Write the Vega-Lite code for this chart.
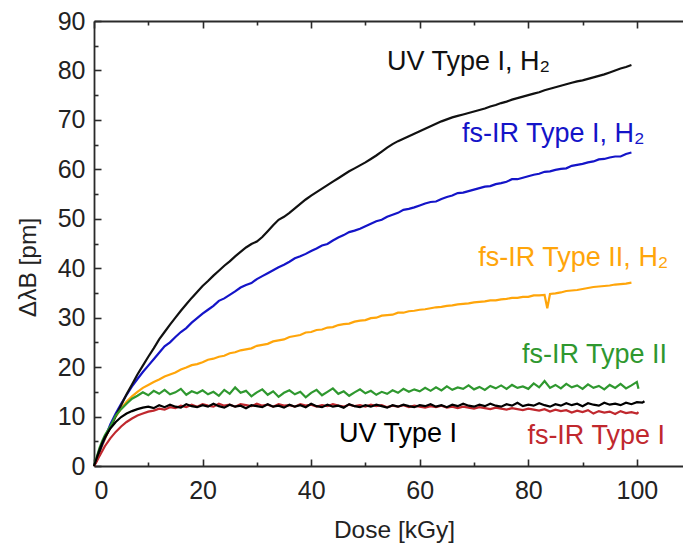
{
  "$schema": "https://vega.github.io/schema/vega-lite/v6.json",
  "width": 589,
  "height": 445,
  "autosize": {"type": "none"},
  "padding": {"left": 94, "top": 21, "right": 0, "bottom": 83},
  "background": "white",
  "config": {
    "view": {"stroke": null},
    "axis": {
      "grid": false,
      "domainColor": "#2a2a2a",
      "tickColor": "#2a2a2a",
      "domainWidth": 1.8,
      "tickWidth": 1.6,
      "labelFont": "Liberation Sans",
      "titleFont": "Liberation Sans",
      "labelColor": "#222222",
      "titleColor": "#222222",
      "labelFontSize": 25,
      "titleFontSize": 24.5,
      "titleFontWeight": "normal"
    }
  },
  "datasets": {
    "curves": [
      {"d": 0, "uvh": 0, "irh": 0, "ir2h": 0, "ir2": 0, "uv": 0, "ir": 0},
      {"d": 0.5, "uvh": 1.1, "irh": 1.4, "ir2h": 1.3, "ir2": 1.8, "uv": 1.6, "ir": 0.9},
      {"d": 1, "uvh": 2.8, "irh": 2.9, "ir2h": 2.8, "ir2": 3.6, "uv": 3.2, "ir": 2.0},
      {"d": 1.5, "uvh": 4.6, "irh": 4.3, "ir2h": 4.1, "ir2": 5.0, "uv": 4.6, "ir": 3.0},
      {"d": 2, "uvh": 5.7, "irh": 5.6, "ir2h": 5.4, "ir2": 6.2, "uv": 5.8, "ir": 4.0},
      {"d": 3, "uvh": 7.8, "irh": 8.4, "ir2h": 7.9, "ir2": 8.0, "uv": 7.6, "ir": 5.6},
      {"d": 4, "uvh": 10.1, "irh": 10.6, "ir2h": 10.0, "ir2": 10.2, "uv": 8.9, "ir": 6.9},
      {"d": 5, "uvh": 12.3, "irh": 12.6, "ir2h": 11.6, "ir2": 11.5, "uv": 9.9, "ir": 8.0},
      {"d": 6, "uvh": 14.5, "irh": 14.4, "ir2h": 13.0, "ir2": 12.6, "uv": 10.6, "ir": 8.9},
      {"d": 7, "uvh": 16.5, "irh": 16.1, "ir2h": 14.1, "ir2": 13.6, "uv": 11.1, "ir": 9.6},
      {"d": 8, "uvh": 18.5, "irh": 17.6, "ir2h": 15.0, "ir2": 14.2, "uv": 11.5, "ir": 10.2},
      {"d": 9, "uvh": 20.3, "irh": 19.0, "ir2h": 15.8, "ir2": 14.9, "uv": 11.8, "ir": 10.6},
      {"d": 10, "uvh": 22.1, "irh": 20.3, "ir2h": 16.4, "ir2": 14.3, "uv": 12.0, "ir": 11.0},
      {"d": 11, "uvh": 23.8, "irh": 21.6, "ir2h": 17.0, "ir2": 15.2, "uv": 11.7, "ir": 11.2},
      {"d": 12, "uvh": 25.6, "irh": 22.9, "ir2h": 17.5, "ir2": 14.6, "uv": 12.3, "ir": 11.6},
      {"d": 13, "uvh": 27.1, "irh": 24.2, "ir2h": 18.1, "ir2": 15.4, "uv": 11.9, "ir": 11.4},
      {"d": 14, "uvh": 28.6, "irh": 25.0, "ir2h": 18.5, "ir2": 14.5, "uv": 12.4, "ir": 11.9},
      {"d": 15, "uvh": 30.0, "irh": 26.1, "ir2h": 18.9, "ir2": 14.9, "uv": 12.0, "ir": 11.7},
      {"d": 16, "uvh": 31.4, "irh": 27.1, "ir2h": 19.5, "ir2": 15.6, "uv": 11.8, "ir": 12.2},
      {"d": 17, "uvh": 32.7, "irh": 27.9, "ir2h": 19.9, "ir2": 14.4, "uv": 12.5, "ir": 11.9},
      {"d": 18, "uvh": 34.0, "irh": 29.0, "ir2h": 20.4, "ir2": 15.1, "uv": 12.1, "ir": 12.4},
      {"d": 19, "uvh": 35.2, "irh": 29.9, "ir2h": 20.6, "ir2": 14.7, "uv": 11.9, "ir": 12.0},
      {"d": 20, "uvh": 36.4, "irh": 30.8, "ir2h": 21.0, "ir2": 15.3, "uv": 12.3, "ir": 12.5},
      {"d": 21, "uvh": 37.4, "irh": 31.6, "ir2h": 21.5, "ir2": 14.5, "uv": 12.0, "ir": 12.2},
      {"d": 22, "uvh": 38.5, "irh": 32.4, "ir2h": 21.7, "ir2": 15.0, "uv": 12.6, "ir": 12.0},
      {"d": 23, "uvh": 39.5, "irh": 33.4, "ir2h": 22.1, "ir2": 14.2, "uv": 12.1, "ir": 12.6},
      {"d": 24, "uvh": 40.5, "irh": 33.9, "ir2h": 22.3, "ir2": 15.4, "uv": 11.8, "ir": 12.2},
      {"d": 25, "uvh": 41.4, "irh": 34.6, "ir2h": 22.8, "ir2": 14.6, "uv": 12.4, "ir": 12.4},
      {"d": 26, "uvh": 42.4, "irh": 35.3, "ir2h": 23.0, "ir2": 15.9, "uv": 12.0, "ir": 12.0},
      {"d": 27, "uvh": 43.3, "irh": 36.1, "ir2h": 23.4, "ir2": 14.8, "uv": 12.2, "ir": 12.5},
      {"d": 28, "uvh": 44.2, "irh": 36.6, "ir2h": 23.6, "ir2": 15.2, "uv": 11.7, "ir": 12.3},
      {"d": 29, "uvh": 44.9, "irh": 37.0, "ir2h": 23.8, "ir2": 14.1, "uv": 12.3, "ir": 12.1},
      {"d": 30, "uvh": 45.4, "irh": 37.8, "ir2h": 24.3, "ir2": 14.9, "uv": 12.1, "ir": 12.6},
      {"d": 31, "uvh": 46.3, "irh": 38.4, "ir2h": 24.5, "ir2": 15.5, "uv": 11.9, "ir": 12.2},
      {"d": 32, "uvh": 47.5, "irh": 39.0, "ir2h": 24.7, "ir2": 14.4, "uv": 12.5, "ir": 12.4},
      {"d": 33, "uvh": 48.7, "irh": 39.6, "ir2h": 25.2, "ir2": 15.1, "uv": 12.0, "ir": 12.0},
      {"d": 34, "uvh": 49.8, "irh": 40.2, "ir2h": 25.4, "ir2": 14.0, "uv": 12.2, "ir": 12.5},
      {"d": 35, "uvh": 50.4, "irh": 40.7, "ir2h": 25.6, "ir2": 14.8, "uv": 11.8, "ir": 12.2},
      {"d": 36, "uvh": 51.2, "irh": 41.3, "ir2h": 26.1, "ir2": 15.3, "uv": 12.4, "ir": 12.3},
      {"d": 37, "uvh": 52.1, "irh": 42.0, "ir2h": 26.3, "ir2": 14.5, "uv": 12.0, "ir": 12.0},
      {"d": 38, "uvh": 53.0, "irh": 42.4, "ir2h": 26.5, "ir2": 15.0, "uv": 12.3, "ir": 12.5},
      {"d": 39, "uvh": 53.9, "irh": 42.9, "ir2h": 27.0, "ir2": 13.9, "uv": 11.9, "ir": 12.2},
      {"d": 40, "uvh": 54.7, "irh": 43.5, "ir2h": 27.1, "ir2": 14.8, "uv": 12.6, "ir": 12.4},
      {"d": 41, "uvh": 55.4, "irh": 44.0, "ir2h": 27.5, "ir2": 15.4, "uv": 12.1, "ir": 12.0},
      {"d": 42, "uvh": 56.1, "irh": 44.6, "ir2h": 27.6, "ir2": 14.3, "uv": 11.9, "ir": 12.3},
      {"d": 43, "uvh": 56.8, "irh": 44.9, "ir2h": 28.0, "ir2": 15.0, "uv": 12.4, "ir": 12.1},
      {"d": 44, "uvh": 57.5, "irh": 45.6, "ir2h": 28.1, "ir2": 15.7, "uv": 12.0, "ir": 12.5},
      {"d": 45, "uvh": 58.2, "irh": 46.2, "ir2h": 28.5, "ir2": 14.6, "uv": 12.2, "ir": 12.2},
      {"d": 46, "uvh": 58.9, "irh": 46.7, "ir2h": 28.7, "ir2": 15.1, "uv": 11.8, "ir": 12.0},
      {"d": 47, "uvh": 59.6, "irh": 47.3, "ir2h": 28.8, "ir2": 14.2, "uv": 12.5, "ir": 12.4},
      {"d": 48, "uvh": 60.2, "irh": 47.6, "ir2h": 29.2, "ir2": 14.9, "uv": 12.1, "ir": 12.1},
      {"d": 49, "uvh": 60.8, "irh": 48.0, "ir2h": 29.4, "ir2": 15.5, "uv": 11.9, "ir": 12.3},
      {"d": 50, "uvh": 61.4, "irh": 48.5, "ir2h": 29.5, "ir2": 14.7, "uv": 12.3, "ir": 12.0},
      {"d": 51, "uvh": 62.1, "irh": 49.0, "ir2h": 29.9, "ir2": 15.2, "uv": 12.0, "ir": 12.4},
      {"d": 52, "uvh": 62.8, "irh": 49.5, "ir2h": 30.0, "ir2": 14.4, "uv": 12.4, "ir": 12.1},
      {"d": 53, "uvh": 63.6, "irh": 49.8, "ir2h": 30.4, "ir2": 15.0, "uv": 12.1, "ir": 12.3},
      {"d": 54, "uvh": 64.4, "irh": 50.4, "ir2h": 30.5, "ir2": 14.6, "uv": 11.8, "ir": 11.9},
      {"d": 55, "uvh": 65.1, "irh": 50.8, "ir2h": 30.6, "ir2": 15.3, "uv": 12.3, "ir": 12.2},
      {"d": 56, "uvh": 65.7, "irh": 51.2, "ir2h": 31.0, "ir2": 14.8, "uv": 12.0, "ir": 12.0},
      {"d": 57, "uvh": 66.2, "irh": 51.8, "ir2h": 31.0, "ir2": 15.6, "uv": 12.4, "ir": 12.3},
      {"d": 58, "uvh": 66.7, "irh": 52.0, "ir2h": 31.3, "ir2": 15.0, "uv": 12.1, "ir": 11.9},
      {"d": 59, "uvh": 67.2, "irh": 52.3, "ir2h": 31.4, "ir2": 15.5, "uv": 11.9, "ir": 12.2},
      {"d": 60, "uvh": 67.7, "irh": 52.7, "ir2h": 31.6, "ir2": 15.1, "uv": 12.3, "ir": 12.0},
      {"d": 61, "uvh": 68.2, "irh": 53.1, "ir2h": 31.7, "ir2": 15.8, "uv": 12.1, "ir": 11.8},
      {"d": 62, "uvh": 68.7, "irh": 53.4, "ir2h": 31.9, "ir2": 15.2, "uv": 12.5, "ir": 12.1},
      {"d": 63, "uvh": 69.2, "irh": 53.5, "ir2h": 32.1, "ir2": 15.9, "uv": 12.0, "ir": 11.9},
      {"d": 64, "uvh": 69.7, "irh": 54.0, "ir2h": 32.2, "ir2": 15.3, "uv": 12.3, "ir": 12.2},
      {"d": 65, "uvh": 70.1, "irh": 54.4, "ir2h": 32.4, "ir2": 16.1, "uv": 11.9, "ir": 11.8},
      {"d": 66, "uvh": 70.5, "irh": 54.7, "ir2h": 32.5, "ir2": 15.4, "uv": 12.4, "ir": 12.0},
      {"d": 67, "uvh": 70.8, "irh": 55.2, "ir2h": 32.7, "ir2": 15.9, "uv": 12.1, "ir": 11.7},
      {"d": 68, "uvh": 71.1, "irh": 55.3, "ir2h": 32.8, "ir2": 15.6, "uv": 12.6, "ir": 12.0},
      {"d": 69, "uvh": 71.4, "irh": 55.6, "ir2h": 32.9, "ir2": 16.3, "uv": 12.2, "ir": 11.8},
      {"d": 70, "uvh": 71.7, "irh": 55.9, "ir2h": 33.1, "ir2": 15.5, "uv": 12.0, "ir": 11.6},
      {"d": 71, "uvh": 72.0, "irh": 56.2, "ir2h": 33.2, "ir2": 16.0, "uv": 12.4, "ir": 11.9},
      {"d": 72, "uvh": 72.3, "irh": 56.5, "ir2h": 33.3, "ir2": 15.4, "uv": 12.1, "ir": 11.7},
      {"d": 73, "uvh": 72.7, "irh": 56.6, "ir2h": 33.5, "ir2": 16.2, "uv": 12.6, "ir": 11.5},
      {"d": 74, "uvh": 73.0, "irh": 57.0, "ir2h": 33.5, "ir2": 15.7, "uv": 12.2, "ir": 11.8},
      {"d": 75, "uvh": 73.4, "irh": 57.2, "ir2h": 33.7, "ir2": 16.3, "uv": 12.0, "ir": 11.6},
      {"d": 76, "uvh": 73.7, "irh": 57.5, "ir2h": 33.8, "ir2": 15.6, "uv": 12.5, "ir": 11.4},
      {"d": 77, "uvh": 74.1, "irh": 58.0, "ir2h": 34.0, "ir2": 16.4, "uv": 12.2, "ir": 11.7},
      {"d": 78, "uvh": 74.4, "irh": 58.0, "ir2h": 34.0, "ir2": 15.8, "uv": 12.8, "ir": 11.5},
      {"d": 79, "uvh": 74.7, "irh": 58.3, "ir2h": 34.2, "ir2": 16.1, "uv": 12.1, "ir": 11.3},
      {"d": 80, "uvh": 75.0, "irh": 58.6, "ir2h": 34.2, "ir2": 15.6, "uv": 12.4, "ir": 11.6},
      {"d": 81, "uvh": 75.3, "irh": 58.9, "ir2h": 34.5, "ir2": 16.7, "uv": 12.2, "ir": 11.4},
      {"d": 82, "uvh": 75.6, "irh": 59.1, "ir2h": 34.5, "ir2": 15.9, "uv": 12.7, "ir": 11.2},
      {"d": 83, "uvh": 76.0, "irh": 59.5, "ir2h": 34.6, "ir2": 17.2, "uv": 12.3, "ir": 11.5},
      {"d": 83.5, "ir2h": 31.9},
      {"d": 84, "uvh": 76.3, "irh": 59.6, "ir2h": 34.8, "ir2": 15.8, "uv": 12.0, "ir": 11.0},
      {"d": 85, "uvh": 76.6, "irh": 59.9, "ir2h": 34.9, "ir2": 16.4, "uv": 12.5, "ir": 11.4},
      {"d": 86, "uvh": 76.9, "irh": 60.1, "ir2h": 35.1, "ir2": 15.7, "uv": 12.2, "ir": 11.1},
      {"d": 87, "uvh": 77.2, "irh": 60.2, "ir2h": 35.4, "ir2": 16.6, "uv": 12.7, "ir": 11.3},
      {"d": 88, "uvh": 77.5, "irh": 60.7, "ir2h": 35.5, "ir2": 15.9, "uv": 12.3, "ir": 10.8},
      {"d": 89, "uvh": 77.8, "irh": 60.9, "ir2h": 35.6, "ir2": 16.3, "uv": 12.6, "ir": 11.2},
      {"d": 90, "uvh": 78.0, "irh": 61.1, "ir2h": 35.8, "ir2": 15.6, "uv": 12.1, "ir": 10.9},
      {"d": 91, "uvh": 78.3, "irh": 61.4, "ir2h": 36.0, "ir2": 16.5, "uv": 12.7, "ir": 11.3},
      {"d": 92, "uvh": 78.6, "irh": 61.6, "ir2h": 36.2, "ir2": 15.8, "uv": 12.4, "ir": 10.6},
      {"d": 93, "uvh": 78.9, "irh": 62.0, "ir2h": 36.3, "ir2": 16.2, "uv": 12.2, "ir": 11.1},
      {"d": 94, "uvh": 79.2, "irh": 62.1, "ir2h": 36.4, "ir2": 15.5, "uv": 12.8, "ir": 10.8},
      {"d": 95, "uvh": 79.6, "irh": 62.4, "ir2h": 36.5, "ir2": 16.4, "uv": 12.4, "ir": 11.0},
      {"d": 96, "uvh": 80.0, "irh": 62.6, "ir2h": 36.7, "ir2": 15.8, "uv": 12.6, "ir": 10.5},
      {"d": 97, "uvh": 80.4, "irh": 62.6, "ir2h": 36.8, "ir2": 16.6, "uv": 12.3, "ir": 11.1},
      {"d": 98, "uvh": 80.7, "irh": 63.1, "ir2h": 36.9, "ir2": 15.7, "uv": 12.8, "ir": 10.7},
      {"d": 99, "uvh": 81.1, "irh": 63.4, "ir2h": 37.1, "ir2": 16.3, "uv": 12.5, "ir": 10.9},
      {"d": 100, "ir2": 17.0, "uv": 12.9, "ir": 10.6},
      {"d": 100.3, "ir2": 15.6, "ir": 10.9},
      {"d": 101, "uv": 12.8},
      {"d": 101.4, "uv": 13.1}
    ],
    "labels": [
      {"d": 69.0, "v": 81.7, "label": "UV Type I, H₂", "s": "uvh"},
      {"d": 84.6, "v": 67.2, "label": "fs-IR Type I, H₂", "s": "irh"},
      {"d": 88.3, "v": 42.1, "label": "fs-IR Type II, H₂", "s": "ir2h"},
      {"d": 92.2, "v": 22.5, "label": "fs-IR Type II", "s": "ir2"},
      {"d": 56.0, "v": 6.4, "label": "UV Type I", "s": "uv"},
      {"d": 92.5, "v": 6.0, "label": "fs-IR Type I", "s": "ir"}
    ],
    "origin": [{"d": 0, "v": 0}]
  },
  "layer": [
    {
      "data": {"name": "curves"},
      "transform": [
        {"fold": ["ir2h", "irh", "uvh", "ir2", "ir", "uv"], "as": ["s", "v"]},
        {"filter": "isValid(datum.v)"}
      ],
      "mark": {"type": "line", "strokeWidth": 2.2, "invalid": "filter"},
      "encoding": {
        "x": {
          "field": "d", "type": "quantitative",
          "scale": {"domain": [0, 108.5], "nice": false, "zero": false},
          "axis": {
            "orient": "bottom", "values": [0, 20, 40, 60, 80, 100],
            "tickSize": -7, "labelPadding": 19,
            "title": "Dose [kGy]", "titleBaseline": "middle", "titleY": 64, "titleX": 300
          }
        },
        "y": {
          "field": "v", "type": "quantitative",
          "scale": {"domain": [0, 90], "nice": false},
          "axis": {
            "orient": "left", "values": [0, 10, 20, 30, 40, 50, 60, 70, 80, 90],
            "tickSize": -7, "labelPadding": 16,
            "title": "ΔλB [pm]", "titleBaseline": "middle", "titleX": -66, "titleY": 246
          }
        },
        "color": {
          "field": "s", "type": "nominal",
          "scale": {
            "domain": ["uvh", "irh", "ir2h", "ir2", "uv", "ir"],
            "range": ["#111111", "#1414c8", "#ffa50a", "#2f982f", "#000000", "#c0282e"]
          },
          "legend": null
        }
      }
    },
    {
      "data": {"name": "origin"},
      "mark": {"type": "point", "opacity": 0},
      "encoding": {
        "x": {"field": "d", "type": "quantitative",
          "axis": {"orient": "bottom", "values": [10, 30, 50, 70, 90], "tickSize": -4, "labels": false, "domain": false, "title": null}},
        "y": {"field": "v", "type": "quantitative",
          "axis": {"orient": "left", "values": [5, 15, 25, 35, 45, 55, 65, 75, 85], "tickSize": -4, "labels": false, "domain": false, "title": null}}
      }
    },
    {
      "data": {"name": "origin"},
      "mark": {"type": "point", "opacity": 0},
      "encoding": {
        "x": {"field": "d", "type": "quantitative",
          "axis": {"orient": "top", "values": [0, 20, 40, 60, 80, 100], "tickSize": -7, "labels": false, "title": null}},
        "y": {"field": "v", "type": "quantitative", "axis": null}
      }
    },
    {
      "data": {"name": "origin"},
      "mark": {"type": "point", "opacity": 0},
      "encoding": {
        "x": {"field": "d", "type": "quantitative",
          "axis": {"orient": "top", "values": [10, 30, 50, 70, 90], "tickSize": -4, "labels": false, "domain": false, "title": null}},
        "y": {"field": "v", "type": "quantitative", "axis": null}
      }
    },
    {
      "data": {"name": "labels"},
      "mark": {"type": "text", "font": "Liberation Sans", "fontSize": 27, "align": "center", "baseline": "middle"},
      "encoding": {
        "x": {"field": "d", "type": "quantitative", "axis": null},
        "y": {"field": "v", "type": "quantitative", "axis": null},
        "text": {"field": "label"},
        "color": {"field": "s", "type": "nominal", "legend": null}
      }
    }
  ],
  "resolve": {"axis": {"x": "independent", "y": "independent"}}
}
